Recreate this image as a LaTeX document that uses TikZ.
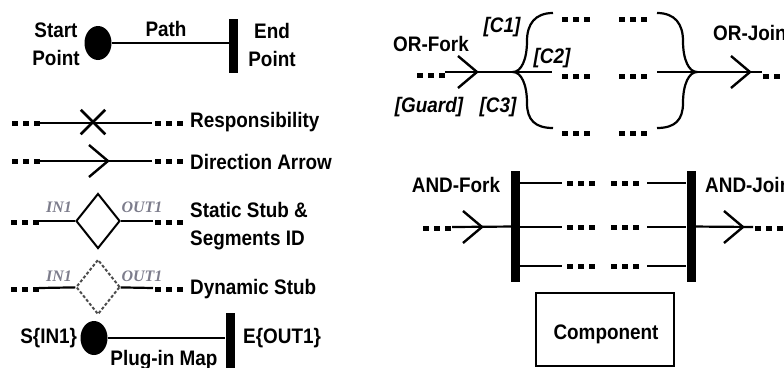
\documentclass[tikz,border=0pt]{standalone}
\usepackage{fontspec}
\setmainfont{Liberation Sans}
\newfontfamily\lblfont{Liberation Sans}[FakeStretch=0.9]
\newfontfamily\idfont{Liberation Serif}
\usetikzlibrary{shapes.geometric, shapes.misc, positioning}
\definecolor{idgray}{RGB}{125,125,140}

\begin{document}
\begin{tikzpicture}[x=1pt, y=-1pt,
  lbl/.style={font=\lblfont\bfseries\fontsize{21}{28}\selectfont, inner sep=0pt},
  cond/.style={font=\lblfont\bfseries\itshape\fontsize{21}{28}\selectfont, inner sep=0pt},
  segid/.style={font=\idfont\bfseries\itshape\fontsize{16}{18}\selectfont, text=idgray, inner sep=0pt},
  startpt/.style={ellipse, fill=black, minimum width=27pt, minimum height=34pt, inner sep=0pt},
  endbar/.style={rectangle, fill=black, minimum width=9pt, inner sep=0pt},
  pathline/.style={line width=2.2pt},
  stub/.style={diamond, draw, line width=2pt, minimum width=44pt, minimum height=55pt, inner sep=0pt},
  dynstub/.style={stub, draw=black!70, dash pattern=on 3pt off 2pt},
  tridots/.pic={\draw[line width=5pt, dash pattern=on 6pt off 5pt] (0,0) -- (28,0);},
  chevron/.pic={\draw[line width=2.4pt] (-19,-16) -- (0,0) -- (-19,16);}
]
\useasboundingbox (0,0) rectangle (784,367);

% define the start and end points
  \node[startpt] (s0) at (98,43) {};
  \node[endbar, minimum height=54pt] (e0) at (233.5,46) {};
  \node[lbl, align=center] (s0lbl) at (56,44) {Start\\Point};
  \node[lbl, align=center] (e0lbl) at (272,45) {End\\Point};
  \node[lbl] (pathlbl) at (166,29) {Path};
  \path (s0) edge[pathline] (s0 -| e0.west);

% responsibility
  \coordinate (r1) at (40,123);
  \coordinate (r2) at (152,123);
  \path (r1) edge[pathline] (r2);
  \node[draw, cross out, line width=2.5pt, minimum size=22pt, inner sep=0pt] (resp) at (93,122) {};
  \pic at (12,123) {tridots};
  \pic at (155,123) {tridots};
  \node[lbl, anchor=west] (resplbl) at (190,122.5) {Responsibility};

% direction arrow
  \coordinate (d1) at (40,161);
  \coordinate (d2) at (152,161);
  \path (d1) edge[pathline] (d2);
  \pic at (108,161) {chevron};
  \pic at (12,161) {tridots};
  \pic at (155,161) {tridots};
  \node[lbl, anchor=west] (dirlbl) at (190,162) {Direction Arrow};

% static stub
  \node[stub] (st) at (98,221) {};
  \coordinate (st1) at (39,221);
  \coordinate (st2) at (153,221);
  \path (st1) edge[pathline] (st)
        (st)  edge[pathline] (st2);
  \pic at (11,222) {tridots};
  \pic at (155,222) {tridots};
  \node[segid] (stin) at (59,207) {IN1};
  \node[segid] (stout) at (142,207) {OUT1};
  \node[lbl, anchor=west, align=left] (stlbl) at (190,226) {Static Stub \&\\Segments ID};

% dynamic stub
  \node[dynstub] (dy) at (98,287) {};
  \coordinate (dy1) at (39,288);
  \coordinate (dy2) at (153,288);
  \path (dy1) edge[pathline] (dy)
        (dy)  edge[pathline] (dy2);
  \pic at (11,289) {tridots};
  \pic at (155,289) {tridots};
  \node[segid] (dyin) at (59,276) {IN1};
  \node[segid] (dyout) at (142,276) {OUT1};
  \node[lbl, anchor=west] (dylbl) at (190,289) {Dynamic Stub};

% plug-in map
  \node[startpt] (s1) at (94,338) {};
  \node[endbar, minimum height=62pt] (e1) at (230,344) {};
  \path (s1) edge[pathline] (s1 -| e1.west);
  \node[lbl, left=3pt of s1] (s1lbl) {S\{IN1\}};
  \node[lbl, anchor=west] (e1lbl) at (243,338) {E\{OUT1\}};
  \node[lbl] (maplbl) at (164,360) {Plug-in Map};

% OR-fork and OR-join
  \coordinate (of0) at (445,72);
  \coordinate (fork) at (513,72);
  \coordinate (c1) at (553,13);
  \coordinate (c2) at (552,72);
  \coordinate (c3) at (553,128);
  \coordinate (join) at (697,72);
  \coordinate (j1) at (657,13);
  \coordinate (j2) at (657,72);
  \coordinate (j3) at (657,128);
  \coordinate (oj0) at (762,72);
  \path (of0) edge[pathline] (c2)
        (j2)  edge[pathline] (oj0);
  \draw[pathline] (c1) .. controls (535,13) and (527,24) .. (527,41)
     .. controls (527,60) and (521,72) .. (fork)
     .. controls (521,72) and (527,84) .. (527,103)
     .. controls (527,120) and (535,128) .. (c3);
  \draw[pathline] (j1) .. controls (675,13) and (683,24) .. (683,41)
     .. controls (683,60) and (689,72) .. (join)
     .. controls (689,72) and (683,84) .. (683,103)
     .. controls (683,120) and (675,128) .. (j3);
  \pic at (477,72) {chevron};
  \pic at (750,72) {chevron};
  \pic at (417,75) {tridots};
  \pic at (763,76) {tridots};
  \foreach \y in {19,76,133} {
    \pic at (562,\y) {tridots};
    \pic at (619,\y) {tridots};
  }
  \node[lbl] (orflbl) at (431,44) {OR-Fork};
  \node[lbl, anchor=west] (orjlbl) at (713,33) {OR-Join};
  \node[cond] (c1lbl) at (502,27) {[C1]};
  \node[cond] (c2lbl) at (552,58) {[C2]};
  \node[cond] (guardlbl) at (429,107) {[Guard]};
  \node[cond] (c3lbl) at (498,107) {[C3]};

% AND-fork and AND-join
  \node[endbar, minimum height=111pt] (af) at (515.5,226.5) {};
  \node[endbar, minimum height=111pt] (aj) at (691,226.5) {};
  \coordinate (a0) at (452,227);
  \coordinate (a4) at (753,227);
  \path (a0) edge[pathline] (af)
        (aj) edge[pathline] (a4);
  \foreach \y in {183,227,266} {
    \coordinate (al\y) at (562,\y);
    \coordinate (ar\y) at (647,\y);
    \path (af.east |- al\y) edge[pathline] (al\y)
          (ar\y) edge[pathline] (aj.west |- ar\y);
    \pic at (567,\y) {tridots};
    \pic at (611,\y) {tridots};
  }
  \pic at (482,227) {chevron};
  \pic at (743,227) {chevron};
  \pic at (423,228) {tridots};
  \pic at (755,228) {tridots};
  \node[lbl] (andflbl) at (456,185) {AND-Fork};
  \node[lbl, anchor=west] (andjlbl) at (705,185) {AND-Join};

% component
  \node[draw, line width=1.6pt, minimum width=138pt, minimum height=73pt, inner sep=0pt] (comp) at (605,329.5) {};
  \node[lbl] (complbl) at (606,334) {Component};

\end{tikzpicture}
\end{document}
